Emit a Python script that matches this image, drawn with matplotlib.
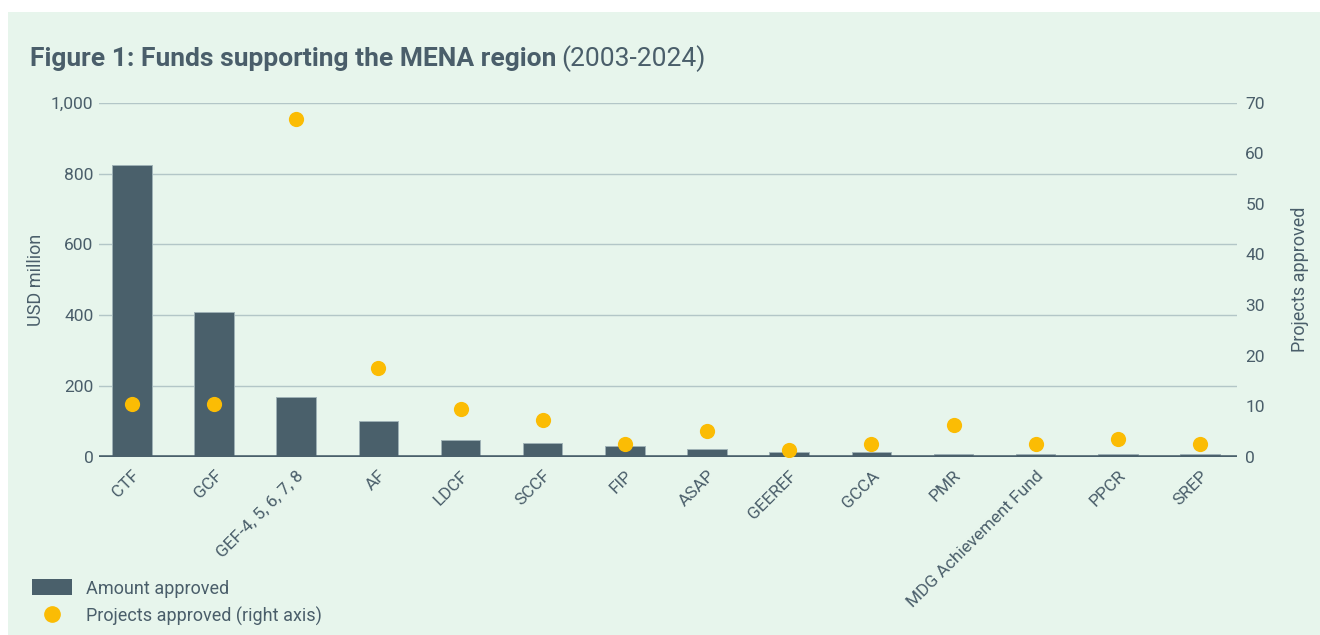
import matplotlib
matplotlib.use("Agg")
import matplotlib.pyplot as plt
from matplotlib.patches import Rectangle, Patch
from matplotlib.lines import Line2D

categories = ["CTF", "GCF", "GEF-4, 5, 6, 7, 8", "AF", "LDCF", "SCCF", "FIP", "ASAP",
              "GEEREF", "GCCA", "PMR", "MDG Achievement Fund", "PPCR", "SREP"]
amount_approved = [824, 408, 169, 100, 47, 38, 30, 22, 14, 14, 7.5, 7, 7, 7]
projects_approved = [10.5, 10.5, 66.8, 17.5, 9.4, 7.3, 2.5, 5.1, 1.3, 2.5, 6.2, 2.5, 3.5, 2.5]
left_ticks = [0, 200, 400, 600, 800, 1000]
right_ticks = [0, 10, 20, 30, 40, 50, 60, 70]

BG = "#e7f5ec"
DARK = "#4a606b"
TEXT = "#4a5e6a"
GOLD = "#fbbc04"
GRID = "#b3c6c7"

plt.rcParams['font.family'] = ['Roboto', 'DejaVu Sans']

W, H = 1320, 635
fig = plt.figure(figsize=(W / 100, H / 100), dpi=100)
fig.patch.set_facecolor("white")
fig.add_artist(Rectangle((8 / W, 0), 1 - 8 / W, (H - 12) / H, transform=fig.transFigure,
                         facecolor=BG, edgecolor="none", zorder=-10))

ax = fig.add_axes([99 / W, (H - 456.7) / H, 1138 / W, 354 / H])
ax.set_facecolor("none")
x = list(range(len(categories)))
ax.bar(x, amount_approved, width=0.48, color=DARK, edgecolor="#9fb2b6", linewidth=0.7, zorder=2)
ax.set_xlim(-0.40, 13.45)
ax.set_ylim(0, 1000)
ax.set_yticks(left_ticks)
ax.set_yticklabels([f"{v:,}" for v in left_ticks])
ax.grid(axis="y", color=GRID, linewidth=1.0, zorder=0)
ax.set_axisbelow(True)
ax.axhline(0, color=DARK, linewidth=2.6, zorder=3)
for s in ax.spines.values():
    s.set_visible(False)
ax.tick_params(axis="both", length=0, labelsize=12.5, labelcolor=TEXT)
ax.tick_params(axis="y", pad=4)
ax.set_xticks(x)
ax.set_xticklabels(categories, rotation=45, ha="right", va="top", rotation_mode="anchor")
ax.tick_params(axis="x", pad=8)
ax.set_ylabel("USD million", fontsize=13, color=TEXT)
ax.yaxis.set_label_coords(-(99 - 45) / 1138, 0.5)

ax2 = ax.twinx()
ax2.scatter(x, projects_approved, s=120, color=GOLD, zorder=5, linewidths=0)
ax2.set_ylim(0, 70)
ax2.set_yticks(right_ticks)
for s in ax2.spines.values():
    s.set_visible(False)
ax2.tick_params(axis="y", length=0, labelsize=12.5, labelcolor=TEXT, pad=6)
ax2.set_ylabel("Projects approved", fontsize=13, color=TEXT)
ax2.yaxis.set_label_coords(1 + (1291 - 1237) / 1138, 0.5)

# Title
t1 = fig.text(30 / W, (H - 66) / H, "Figure 1: Funds supporting the MENA region",
              fontsize=19, fontweight="bold", color=TEXT, ha="left", va="baseline")
fig.canvas.draw()
bb = t1.get_window_extent()
fig.text((bb.x1 + 5) / W, (H - 66) / H, "(2003-2024)", fontsize=19, color=TEXT,
         ha="left", va="baseline")

handles = [Patch(facecolor=DARK, edgecolor="none"),
           Line2D([], [], marker="o", linestyle="none", color=GOLD, markersize=11)]
fig.legend(handles, ["Amount approved", "Projects approved (right axis)"],
           loc="lower left", bbox_to_anchor=(25 / W, 2 / H), frameon=False,
           fontsize=13, labelcolor=TEXT, handlelength=2.2, handleheight=1.0,
           handletextpad=0.8, labelspacing=0.5, borderaxespad=0)

fig.savefig("out.png", dpi=100, facecolor=fig.get_facecolor())
